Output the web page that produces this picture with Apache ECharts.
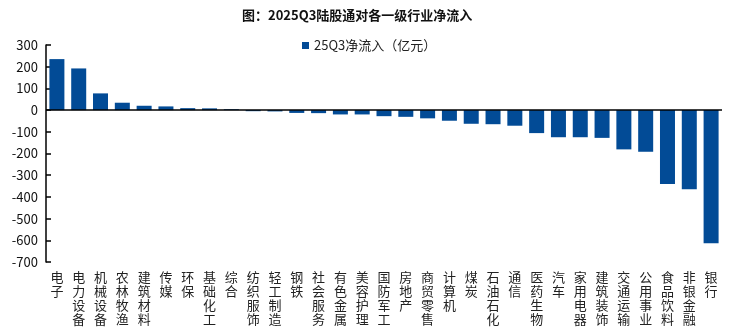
<!DOCTYPE html>
<html>
<head>
<meta charset="utf-8">
<script src="https://cdn.jsdelivr.net/npm/echarts@6/dist/echarts.min.js"></script>
<style>html,body{margin:0;padding:0;background:#fff}#c{width:733px;height:331px}</style>
</head>
<body>
<div id="c"></div>
<script>
const categories = ['电子','电力设备','机械设备','农林牧渔','建筑材料','传媒','环保','基础化工','综合','纺织服饰','轻工制造','钢铁','社会服务','有色金属','美容护理','国防军工','房地产','商贸零售','计算机','煤炭','石油石化','通信','医药生物','汽车','家用电器','建筑装饰','交通运输','公用事业','食品饮料','非银金融','银行'];
const netInflow = [235,192,77,34,20,17,9,8,4,-5,-6,-13,-14,-20,-20,-28,-31,-38,-49,-63,-65,-72,-106,-125,-125,-128,-181,-192,-340,-365,-614];
const seriesName = '25Q3净流入（亿元）';
const titleText = '图：2025Q3陆股通对各一级行业净流入';
const yTicks = {min:-700, max:300, interval:100};

const font = '"Noto Sans CJK SC", "Noto Sans", sans-serif';
const chart = echarts.init(document.getElementById('c'));
chart.setOption({
  animation:false,
  textStyle:{fontFamily:font},
  title:{text:titleText,left:237,top:4,textStyle:{fontSize:13,fontWeight:'bold',color:'#111',fontFamily:font}},
  legend:{data:[seriesName],left:297,top:34,itemWidth:7,itemHeight:7,icon:'rect',textStyle:{fontSize:13,color:'#222',fontFamily:font}},
  grid:{left:46,right:11,top:45,bottom:69},
  xAxis:{type:'category',data:categories,
    axisLine:{show:false,onZero:false},axisTick:{show:false},
    axisLabel:{interval:0,margin:8,fontSize:13,lineHeight:14,color:'#222',fontFamily:font,
      formatter:v=>v.split('').join('\n')}},
  yAxis:{type:'value',min:yTicks.min,max:yTicks.max,interval:yTicks.interval,
    axisLine:{show:true,lineStyle:{color:'#000',width:1.5}},
    axisTick:{show:true,inside:true,length:5,lineStyle:{color:'#000',width:1.5}},
    splitLine:{show:false},
    axisLabel:{fontSize:13,color:'#111',margin:8,fontFamily:font}},
  series:[{name:seriesName,type:'bar',data:netInflow,barWidth:15,
    itemStyle:{color:'#024b96'},
    markLine:{silent:true,symbol:'none',label:{show:false},
      lineStyle:{color:'#000',width:1.5,type:'solid'},data:[{yAxis:0}]}}]
});
</script>
</body>
</html>
